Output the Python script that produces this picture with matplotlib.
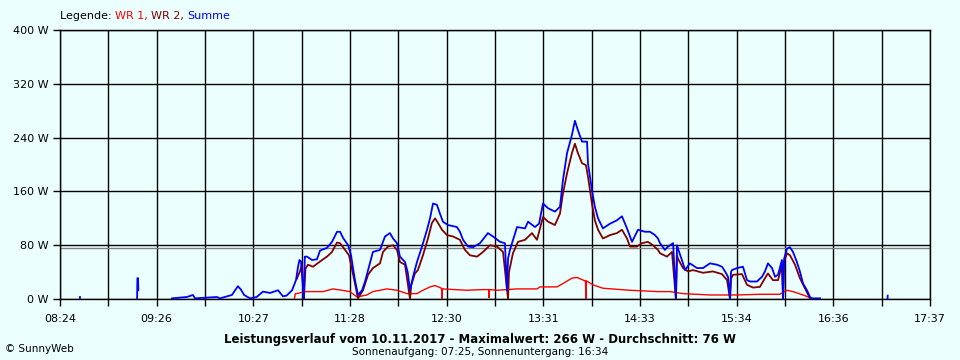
import numpy as np
import matplotlib
matplotlib.use("Agg")
import matplotlib.pyplot as plt

# time axis: minutes after 08:24, axis ends at 17:37 (553 min)
x_labels = ["08:24", "09:26", "10:27", "11:28", "12:30", "13:31", "14:33", "15:34", "16:36", "17:37"]
y_ticks = [0, 80, 160, 240, 320, 400]
avg_w = 76

nan = np.nan

# Summe (blue)
sum_t = [12.6, 12.7, 13.3, 49.0, 49.2, 49.6, 49.8, 50.4,
         71.2, 76.3, 80.7, 84.5, 85.8, 99.8, 101.7, 109.3, 111.0, 113.1, 115.0, 117.0,
         120.8, 125.0, 129.0, 133.5, 136.0, 138.6, 141.7, 144.0, 147.5, 150.0, 151.3,
         152.2, 153.2, 155.0, 155.6, 157.0, 160.2, 163.3, 165.3, 169.7, 172.9, 176.1,
         178.0, 179.9, 183.1, 185.0, 186.3, 187.5, 189.4, 192.0, 193.9, 195.5, 197.0,
         198.9, 203.4, 206.6, 209.7, 211.7, 214.2, 216.1, 219.3, 221.0, 222.5, 224.4,
         226.9, 230.1, 233.3, 235.2, 237.1, 239.6, 241.5, 243.4, 246.6, 252.3, 254.2,
         256.2, 259.3, 262.5, 267.0, 272.0, 275.2, 279.7, 282.8, 284.1, 284.8, 286.0,
         290.5, 295.6, 297.5, 301.9, 304.5, 307.0, 310.2, 314.6, 317.8, 319.7, 322.3,
         325.4, 327.3, 329.2, 331.8, 335.0, 335.6, 338.1, 340.0, 342.0, 345.1, 349.6,
         354.0, 357.2, 360.4, 363.6, 367.4, 371.8, 375.0, 378.2, 380.1, 381.4, 384.5,
         386.5, 389.7, 391.5, 392.2, 392.8, 395.3, 397.3, 400.4, 404.9, 408.7, 413.1,
         417.6, 420.8, 422.7, 424.6, 425.9, 426.5, 427.1, 430.3, 434.1, 436.7, 438.6,
         443.0, 446.2, 448.1, 450.0, 452.6, 454.5, 456.4, 458.9, 459.6, 460.3, 462.1,
         464.0, 465.9, 468.4, 470.3, 472.3, 474.8, 476.7, 478.0, 483.1, 483.5,
         526.0, 526.1, 526.8]
sum_w = [0, 3, nan, 0, 31, 31, 13, nan,
         1, 2, 3, 6, 1, 3, 1, 6, 12, 19, 14, 6,
         1, 3, 11, 9, 11, 13, 4, 5, 13, 28, 48,
         58, 56, 0, 63, 63, 58, 59, 72, 76, 85, 100,
         100, 91, 80, 65, 45, 28, 6, 13, 26, 40, 53,
         70, 73, 93, 98, 90, 83, 63, 55, 40, 13, 33,
         55, 78, 103, 120, 142, 140, 127, 115, 110, 107, 100,
         88, 78, 77, 83, 98, 93, 85, 83, 13, 60, 73,
         107, 105, 115, 107, 112, 142, 135, 130, 137, 177, 217,
         244, 265, 251, 234, 234, 202, 162, 137, 120, 105, 112,
         117, 123, 105, 85, 103, 100, 100, 95, 90, 83, 73,
         78, 83, 0, 80, 75, 58, 43, 53, 46, 46, 53,
         51, 48, 41, 33, 0, 40, 43, 46, 48, 28, 26,
         26, 33, 41, 53, 46, 33, 36, 58, 0, 60, 75,
         77, 70, 55, 41, 23, 13, 3, 1, 1, nan,
         0, 5, nan]

# WR 2 (dark red)
wr2_t = [150.5, 152.5, 153.8, 155.0, 156.0, 157.6, 160.8, 166.6, 169.7, 172.9, 176.1,
         178.0, 181.2, 183.7, 187.5, 189.4, 192.6, 195.8, 198.9, 203.4, 205.3, 208.5,
         211.7, 214.2, 216.1, 219.3, 222.5, 223.2, 225.6, 227.5, 230.7, 233.9, 236.4,
         238.4, 240.3, 242.8, 246.0, 249.8, 254.2, 257.4, 260.6, 265.1, 268.9, 273.3,
         277.8, 281.6, 284.8, 285.4, 287.9, 291.1, 295.6, 300.0, 303.2, 307.0, 310.2,
         314.6, 317.8, 319.7, 322.3, 325.4, 327.3, 329.2, 331.8, 334.3, 335.6, 338.1,
         340.0, 342.0, 345.1, 349.6, 354.0, 357.2, 360.4, 362.3, 366.7, 369.9, 373.7,
         376.9, 380.1, 381.4, 385.8, 389.0, 391.5, 392.2, 392.8, 396.0, 399.2, 402.3,
         408.7, 415.0, 420.8, 424.0, 425.9, 426.5, 427.8, 433.5, 436.7, 440.5, 444.9,
         448.1, 450.0, 453.2, 456.4, 458.9, 459.6, 460.2, 462.1, 464.0, 467.2, 470.3,
         473.5, 476.7, 478.0]
wr2_w = [30, 41, 51, 0, 45, 51, 48, 58, 63, 70, 84,
         83, 73, 65, 23, 1, 13, 36, 46, 53, 70, 78,
         80, 73, 55, 51, 0, 20, 38, 43, 65, 90, 113,
         120, 113, 103, 95, 93, 88, 73, 65, 63, 70, 80,
         78, 70, 0, 40, 68, 85, 88, 98, 88, 122, 115,
         110, 127, 157, 187, 217, 231, 217, 202, 199, 182, 142,
         117, 103, 90, 95, 98, 103, 90, 78, 78, 83, 85,
         80, 73, 68, 63, 70, 0, 65, 60, 46, 41, 43,
         39, 41, 37, 28, 0, 30, 36, 37, 21, 17, 18,
         31, 38, 28, 28, 51, 0, 55, 68, 65, 51, 31,
         16, 1, 0]

# WR 1 (red)
wr1_t = [149.0, 149.6, 150.5, 155.7, 167.2, 173.5, 179.2, 184.3, 188.8, 195.1, 198.9, 207.8,
         214.2, 220.6, 226.9, 230.7, 235.2, 238.4, 241.5, 242.5, 242.8, 243.1, 258.7, 268.9,
         272.4, 272.7, 273.0, 277.8, 290.5, 303.2, 305.1, 315.9, 319.7, 325.4, 328.6, 333.7,
         334.0, 334.3, 334.6, 338.8, 345.1, 362.3, 380.1, 387.7, 396.0, 413.1, 430.3, 444.9,
         457.6, 462.1, 465.9, 472.3, 476.7, 478.0]
wr1_w = [0, 8, 8, 11, 11, 15, 13, 11, 3, 6, 11, 15,
         13, 8, 8, 13, 18, 20, 17, 16, 0, 15, 13, 14,
         14, 2, 14, 13, 15, 15, 18, 18, 23, 31, 32, 27,
         27, 0, 27, 21, 16, 13, 11, 11, 8, 6, 6, 7,
         7, 13, 11, 6, 2, 0]

bg = "#EBFFFF"
t_end = 553

fig = plt.figure(figsize=(9.6, 3.6), dpi=100, facecolor=bg)
ax = fig.add_axes([60 / 960, 1 - 299 / 360, 870 / 960, 269 / 360], facecolor=bg)

grid_x = np.linspace(0, t_end, 19)
for gx in grid_x:
    ax.axvline(gx, color="black", lw=1.0, zorder=1)
for gy in y_ticks:
    ax.axhline(gy, color="black", lw=1.0, zorder=1)
ax.axhline(avg_w, color="#808080", lw=1.0, zorder=1)

ax.plot(wr1_t, wr1_w, color="#FF0000", lw=1.0, zorder=3)
ax.plot(wr2_t, wr2_w, color="#800000", lw=1.3, zorder=4)
ax.plot(sum_t, sum_w, color="#0000FF", lw=1.3, zorder=5)

ax.set_xlim(0, t_end)
ax.set_ylim(0, 400)
ax.set_xticks(grid_x)
ax.set_xticklabels([x_labels[i // 2] if i % 2 == 0 else "" for i in range(19)])
ax.set_yticks(y_ticks)
ax.set_yticklabels([f"{v} W" for v in y_ticks])
ax.tick_params(axis="both", direction="out", length=5, width=1, color="black",
               labelsize=8, pad=3)
ax.tick_params(axis="x", pad=6)
for sp in ax.spines.values():
    sp.set_linewidth(1.0)

# legend line
font = dict(fontsize=8, family="DejaVu Sans")
prev = fig.text(60 / 960, 1 - 16 / 360, "Legende: ", color="black", va="center", ha="left", **font)
for txt, col in [("WR 1, ", "#FF0000"), ("WR 2, ", "#800000"), ("Summe", "#0000FF")]:
    prev = ax.annotate(txt, xy=(1, 0.5), xycoords=prev, va="center", ha="left",
                       color=col, annotation_clip=False, **font)

fig.text(480 / 960, 1 - 339 / 360,
         "Leistungsverlauf vom 10.11.2017 - Maximalwert: 266 W - Durchschnitt: 76 W",
         ha="center", va="center", fontsize=8.5, fontweight="bold", family="DejaVu Sans")
fig.text(480 / 960, 1 - 352 / 360, "Sonnenaufgang: 07:25, Sonnenuntergang: 16:34",
         ha="center", va="center", fontsize=7.5, family="DejaVu Sans")
fig.text(5 / 960, 1 - 349 / 360, "© SunnyWeb", ha="left", va="center", fontsize=7.5,
         family="DejaVu Sans")

fig.savefig("out.png", dpi=100, facecolor=bg)
